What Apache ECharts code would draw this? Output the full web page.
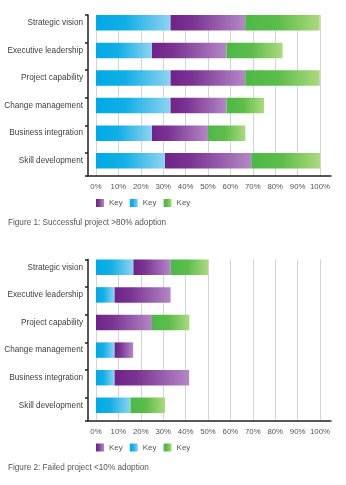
<!DOCTYPE html>
<html>
<head>
<meta charset="utf-8">
<script src="https://cdn.jsdelivr.net/npm/echarts@6/dist/echarts.min.js"></script>
<style>
  html, body { margin: 0; padding: 0; background: #fff; }
  #chart { width: 346px; height: 485px; }
</style>
</head>
<body>
<div id="chart"></div>
<script>
// Categories shared by both figures
var categories = ['Strategic vision', 'Executive leadership', 'Project capability', 'Change management', 'Business integration', 'Skill development'];

// Figure 1: successful project (>80% adoption), shares in %
var successBlue   = [33.3, 25, 33.3, 33.3, 25, 30.8];
var successPurple = [33.3, 33.3, 33.3, 25, 25, 38.5];
var successGreen  = [33.3, 25, 33.3, 16.7, 16.7, 30.8];

// Figure 2: failed project (<10% adoption), shares in %
var failedBlue   = [16.7, 8.3, 0, 8.3, 8.3, 15.4];
var failedPurple = [16.7, 25, 25, 8.3, 33.3, 0];
var failedGreen  = [16.7, 0, 16.7, 0, 0, 15.4];

var xTicks = [0, 10, 20, 30, 40, 50, 60, 70, 80, 90, 100];
var legendLabel = 'Key';
var captions = ['Figure 1: Successful project >80% adoption', 'Figure 2: Failed project <10% adoption'];

var FONT = "'Liberation Sans', Arial, sans-serif";

function grad(stops) {
  return { type: 'linear', x: 0, y: 0, x2: 1, y2: 0,
    colorStops: stops.map(function (s) { return { offset: s[0], color: s[1] }; }) };
}
var blueFill   = grad([[0, '#00aae5'], [0.4, '#12afe6'], [1, '#8fd3ef']]);
var purpleFill = grad([[0, '#6f2289'], [0.3, '#7b3493'], [1, '#b487c6']]);
var greenFill  = grad([[0, '#4cb847'], [0.45, '#5dbd4b'], [1, '#acda7e']]);

var chart = echarts.init(document.getElementById('chart'), null, { renderer: 'canvas' });

var grids = [], xAxes = [], yAxes = [], series = [], legends = [], titles = [];

function addFigure(idx, offset, blue, purple, green) {
  var g0 = grids.length;
  // data grid: category bands hold the bars
  grids.push({ left: 96, width: 224, top: 9 + offset, height: 165.6, outerBoundsMode: 'none' });
  // gridline grid: vertical split lines and percentage labels
  grids.push({ left: 96, width: 224, top: 15 + offset, height: 161, outerBoundsMode: 'none' });
  // frame grid: the dark axis lines and the small category ticks
  grids.push({ left: 88, width: 243, top: 15 + offset, height: 161, outerBoundsMode: 'none' });

  xAxes.push({ gridIndex: g0, type: 'value', min: 0, max: 100, show: false });
  yAxes.push({ gridIndex: g0, type: 'category', data: categories, inverse: true,
    axisLine: { show: false }, axisTick: { show: false },
    axisLabel: { margin: 13, fontSize: 8.2, color: '#404040', fontFamily: FONT } });

  xAxes.push({ gridIndex: g0 + 1, type: 'value', min: xTicks[0], max: xTicks[xTicks.length - 1], interval: 10,
    axisLine: { show: false }, axisTick: { show: false },
    splitLine: { show: true, lineStyle: { color: '#d4d4d4', width: 1 } },
    axisLabel: { margin: 7, fontSize: 7.8, color: '#555', fontFamily: FONT, formatter: '{value}%' } });
  yAxes.push({ gridIndex: g0 + 1, type: 'value', show: false });

  xAxes.push({ gridIndex: g0 + 2, type: 'value', min: 0, max: 1,
    axisLine: { show: true, onZero: false, lineStyle: { color: '#231f20', width: 1.5 } },
    axisTick: { show: false }, axisLabel: { show: false }, splitLine: { show: false } });
  yAxes.push({ gridIndex: g0 + 2, type: 'value', inverse: true, min: 0, max: 161 / 27.6, interval: 1,
    axisLine: { show: true, onZero: false, lineStyle: { color: '#231f20', width: 1.5 } },
    axisTick: { show: true, length: 3, lineStyle: { color: '#231f20', width: 1.5 } },
    axisLabel: { show: false }, splitLine: { show: false } });

  var ax = xAxes.length - 3, ay = yAxes.length - 3;
  [['blue', blue, blueFill], ['purple', purple, purpleFill], ['green', green, greenFill]].forEach(function (s) {
    series.push({ name: s[0], type: 'bar', stack: 'fig' + idx, xAxisIndex: ax, yAxisIndex: ay,
      data: s[1], barWidth: 15.5, itemStyle: { color: s[2] }, silent: true });
  });

  legends.push({ left: 96, top: 199 + offset, padding: 0, itemWidth: 8, itemHeight: 8, itemGap: 7,
    icon: 'rect', data: ['purple', 'blue', 'green'], formatter: function () { return legendLabel; },
    textStyle: { fontSize: 8, color: '#555', fontFamily: FONT } });

  titles.push({ text: captions[idx], left: 8, top: 219 + offset, padding: 0,
    textStyle: { fontSize: 8.2, fontWeight: 'normal', color: '#555', fontFamily: FONT } });
}

addFigure(0, 0, successBlue, successPurple, successGreen);
addFigure(1, 244.5, failedBlue, failedPurple, failedGreen);

chart.setOption({
  animation: false,
  backgroundColor: '#fff',
  title: titles,
  legend: legends,
  grid: grids,
  xAxis: xAxes,
  yAxis: yAxes,
  series: series
});
</script>
</body>
</html>
